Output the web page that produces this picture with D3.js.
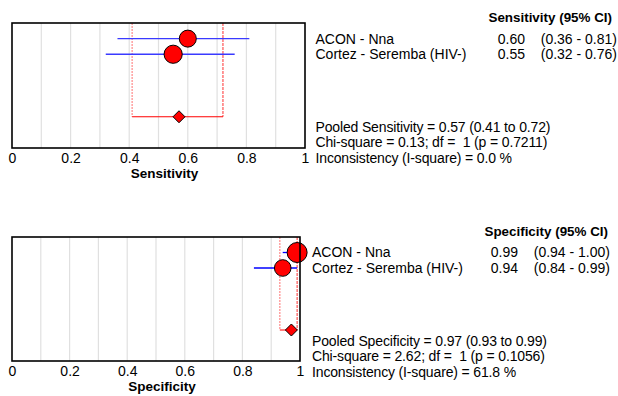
<!DOCTYPE html>
<html>
<head>
<meta charset="utf-8">
<script src="https://cdn.jsdelivr.net/npm/d3@7/dist/d3.min.js"></script>
<style>
  html, body { margin: 0; padding: 0; background: #fff; }
  svg { display: block; font-family: Arial, "Liberation Sans", sans-serif; }
  text { white-space: pre; }
</style>
</head>
<body>
<svg id="chart" width="618" height="396"></svg>
<script>
// study rows
const studies = ['ACON - Nna', 'Cortez - Seremba (HIV-)'];

// sensitivity
const sensEst = [0.60, 0.55];
const sensLo = [0.36, 0.32];
const sensHi = [0.81, 0.76];
const sensWeight = [42, 48];
const sensPooled = [0.57, 0.41, 0.72];
const sensStats = [
  'Pooled Sensitivity = 0.57 (0.41 to 0.72)',
  'Chi-square = 0.13; df =  1 (p = 0.7211)',
  'Inconsistency (I-square) = 0.0 %'
];

// specificity
const specEst = [0.99, 0.94];
const specLo = [0.94, 0.84];
const specHi = [1.00, 0.99];
const specWeight = [58, 40];
const specPooled = [0.97, 0.93, 0.99];
const specStats = [
  'Pooled Specificity = 0.97 (0.93 to 0.99)',
  'Chi-square = 2.62; df =  1 (p = 0.1056)',
  'Inconsistency (I-square) = 61.8 %'
];

const ticks = [0, 0.2, 0.4, 0.6, 0.8, 1];
const grid = d3.range(1, 10).map((d) => d / 10);

const svg = d3.select('#chart');
const fmt = d3.format('.2f');
const rScale = d3.scaleSqrt().domain([0, 58]).range([0, 10]);
const FS = 14;

function panel(opt) {
  const g = svg.append('g');
  const x = d3.scaleLinear().domain([0, 1]).range([opt.left, opt.right]);
  // row 1, 2 = studies, row 6 = pooled
  const y = d3.scaleLinear().domain([0, 8]).range([opt.top, opt.bottom]);

  g.selectAll('line.grid')
    .data(grid)
    .join('line')
    .attr('x1', (d) => x(d)).attr('x2', (d) => x(d))
    .attr('y1', opt.top).attr('y2', opt.bottom)
    .attr('stroke', '#e0e0e0').attr('stroke-width', 1.2);

  const [pe, plo, phi] = opt.pooled;
  const py = y(6);
  g.append('line')
    .attr('x1', x(plo)).attr('x2', x(plo)).attr('y1', opt.top).attr('y2', py)
    .attr('stroke', '#ff8a8a').attr('stroke-width', 1.2).attr('stroke-dasharray', '2,1');
  g.append('line')
    .attr('x1', x(phi)).attr('x2', x(phi)).attr('y1', opt.top).attr('y2', py)
    .attr('stroke', '#ff3030').attr('stroke-width', 1).attr('stroke-dasharray', '3,1');
  g.append('line')
    .attr('x1', x(plo)).attr('x2', x(phi)).attr('y1', py).attr('y2', py)
    .attr('stroke', '#ff0000').attr('stroke-width', 1);

  const rows = studies.map((s, i) => ({ name: s, est: opt.est[i], lo: opt.lo[i], hi: opt.hi[i], w: opt.weight[i], i }));

  g.selectAll('line.ci')
    .data(rows)
    .join('line')
    .attr('x1', (d) => x(d.lo)).attr('x2', (d) => x(d.hi))
    .attr('y1', (d) => y(d.i + 1)).attr('y2', (d) => y(d.i + 1))
    .attr('stroke', opt.ciColor).attr('stroke-width', 1.3);

  g.selectAll('circle.pt')
    .data(rows)
    .join('circle')
    .attr('cx', (d) => x(d.est)).attr('cy', (d) => y(d.i + 1))
    .attr('r', (d) => rScale(d.w))
    .attr('fill', '#ff0000').attr('stroke', '#000').attr('stroke-width', 1);

  const dh = 6;
  g.append('path')
    .attr('d', `M${x(pe) - dh},${py}L${x(pe)},${py - dh}L${x(pe) + dh},${py}L${x(pe)},${py + dh}Z`)
    .attr('fill', '#ff0000').attr('stroke', '#000').attr('stroke-width', 1);

  g.append('rect')
    .attr('x', opt.left).attr('y', opt.top)
    .attr('width', opt.right - opt.left).attr('height', opt.bottom - opt.top)
    .attr('fill', 'none').attr('stroke', '#000').attr('stroke-width', 1.6);

  const axis = d3.axisBottom(x).tickValues(ticks).tickSize(0).tickPadding(5)
    .tickFormat((d) => (d === 0 || d === 1 ? String(d) : d3.format('.1f')(d)));
  const ax = g.append('g').attr('transform', `translate(0,${opt.bottom})`).call(axis);
  ax.select('.domain').remove();
  ax.selectAll('text').attr('font-size', FS).attr('fill', '#000')
    .attr('font-family', 'Arial, "Liberation Sans", sans-serif');

  g.append('text')
    .attr('x', (opt.left + opt.right) / 2 + 6).attr('y', opt.bottom + 30)
    .attr('text-anchor', 'middle').attr('font-size', 13.5).attr('font-weight', 'bold')
    .text(opt.title);

  // right-hand text
  g.append('text')
    .attr('x', opt.headEnd).attr('y', opt.top - 6).attr('dy', '0.35em')
    .attr('text-anchor', 'end').attr('font-size', 13.4).attr('font-weight', 'bold')
    .text(opt.title + ' (95% CI)');

  const rt = g.selectAll('g.row').data(rows).join('g')
    .attr('transform', (d) => `translate(0,${y(d.i + 1)})`);
  rt.append('text').attr('x', opt.labelX).attr('dy', '0.35em').attr('font-size', FS)
    .text((d) => d.name);
  rt.append('text').attr('x', opt.valEnd).attr('dy', '0.35em').attr('font-size', FS)
    .attr('text-anchor', 'end').text((d) => fmt(d.est));
  rt.append('text').attr('x', opt.ciEnd).attr('dy', '0.35em').attr('font-size', FS)
    .attr('text-anchor', 'end')
    .text((d) => `(${fmt(d.lo)} - ${fmt(d.hi)})`);

  g.selectAll('text.stat')
    .data(opt.stats)
    .join('text')
    .attr('x', opt.labelX).attr('y', (d, i) => opt.top + 104 + i * 15.3)
    .attr('dy', '0.35em').attr('font-size', FS)
    .attr('letter-spacing', -0.15)
    .text((d) => d);
}

panel({
  left: 12, right: 305, top: 23, bottom: 148,
  labelX: 315.5, valEnd: 525, ciEnd: 617, headEnd: 612,
  title: 'Sensitivity', ciColor: '#3a3aff',
  est: sensEst, lo: sensLo, hi: sensHi, weight: sensWeight,
  pooled: sensPooled, stats: sensStats
});

panel({
  left: 12, right: 300, top: 237, bottom: 361,
  labelX: 312, valEnd: 518, ciEnd: 610, headEnd: 608,
  title: 'Specificity', ciColor: '#0000ff',
  est: specEst, lo: specLo, hi: specHi, weight: specWeight,
  pooled: specPooled, stats: specStats
});
</script>
</body>
</html>
